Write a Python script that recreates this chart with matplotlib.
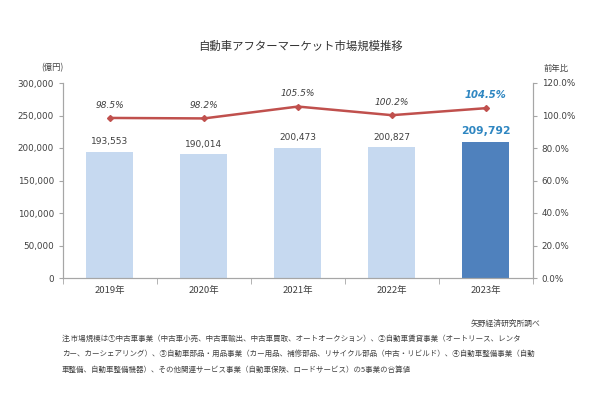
#!/usr/bin/env python3
"""Automotive aftermarket size, bars + YoY line on twin axes."""
import numpy as np
import matplotlib
matplotlib.use('Agg')
import matplotlib.pyplot as plt
from matplotlib.ticker import FuncFormatter

years = ['2019年', '2020年', '2021年', '2022年', '2023年']
market = [193553, 190014, 200473, 200827, 209792]
yoy = [98.5, 98.2, 105.5, 100.2, 104.5]

title = '自動車アフターマーケット市場規模推移'
source = '矢野経済研究所調べ'
notes = [
    '注.市場規模は①中古車事業（中古車小売、中古車輸出、中古車買取、オートオークション）、②自動車賃貸事業（オートリース、レンタ',
    'カー、カーシェアリング）、③自動車部品・用品事業（カー用品、補修部品、リサイクル部品（中古・リビルド）、④自動車整備事業（自動',
    '車整備、自動車整備機器）、その他関連サービス事業（自動車保険、ロードサービス）の5事業の合算値',
]

COL = {
    'bar': '#c6d9f0',
    'bar_hi': '#4f81bd',
    'line': '#c0504d',
    'txt': '#404040',
    'hi': '#2e86c1',
    'axis': '#a6a6a6',
}
JP = ['Noto Sans CJK JP', 'DejaVu Sans']
NUM = ['DejaVu Sans', 'Noto Sans CJK JP']

plt.rcParams['font.family'] = NUM

fig = plt.figure(figsize=(6, 4), dpi=100, facecolor='white')
ax = fig.add_axes([0.105, 0.305, 0.783, 0.4875])
ax2 = ax.twinx()

x = np.arange(len(years))
cols = [COL['bar']] * (len(years) - 1) + [COL['bar_hi']]
ax.bar(x, market, width=0.5, color=cols, zorder=2)
ax.set_xlim(-0.5, len(years) - 0.5)
ax.set_ylim(0, 300000)
ax.set_yticks(np.arange(0, 300001, 50000))
ax.yaxis.set_major_formatter(FuncFormatter(lambda v, p: f'{int(v):,}'))
ax.set_xticks(x, years, family=JP)
ax.set_xticks(np.arange(-0.5, len(years), 1.0), minor=True)
ax.tick_params(axis='x', which='major', length=0, pad=6, labelsize=6.8, colors=COL['txt'])
ax.tick_params(axis='x', which='minor', length=4, color=COL['axis'])
ax.tick_params(axis='y', length=3, color=COL['axis'], labelsize=6.3, labelcolor=COL['txt'])

for i, v in enumerate(market):
    last = i == len(market) - 1
    ax.text(i, v + 9000, f'{v:,}', ha='center', va='bottom',
            fontsize=7.8 if last else 6.5, fontweight='bold' if last else 'normal',
            color=COL['hi'] if last else COL['txt'])

ax2.plot(x, yoy, color=COL['line'], lw=1.8, marker='D', ms=3, zorder=3)
ax2.set_ylim(0, 120)
ax2.set_yticks(np.arange(0, 121, 20))
ax2.yaxis.set_major_formatter(FuncFormatter(lambda v, p: f'{v:.1f}%'))
ax2.tick_params(axis='y', length=3, color=COL['axis'], labelsize=6.3, labelcolor=COL['txt'])
for i, v in enumerate(yoy):
    last = i == len(yoy) - 1
    ax2.text(i, v + 5, f'{v:.1f}%', ha='center', va='bottom', style='italic',
             fontsize=7.2 if last else 6.5, fontweight='bold' if last else 'normal',
             color=COL['hi'] if last else COL['txt'])

for a in (ax, ax2):
    a.spines['top'].set_visible(False)
    for s in ('left', 'right', 'bottom'):
        a.spines[s].set_color(COL['axis'])
        a.spines[s].set_linewidth(0.8)

fig.text(0.5, 0.885, title, ha='center', va='center', fontsize=8.2, family=JP, color='#333333')
fig.text(0.087, 0.83, '(億円)', ha='center', va='center', fontsize=6, family=JP, color=COL['txt'])
fig.text(0.927, 0.83, '前年比', ha='center', va='center', fontsize=6, family=JP, color=COL['txt'])
fig.text(0.9, 0.19, source, ha='right', va='center', fontsize=5.6, family=JP, color=COL['txt'])
for k, line in enumerate(notes):
    fig.text(0.103, 0.153 - k * 0.0385, line, ha='left', va='center', fontsize=5.4, family=JP, color=COL['txt'])

fig.savefig('out.png', dpi=100, facecolor='white')
